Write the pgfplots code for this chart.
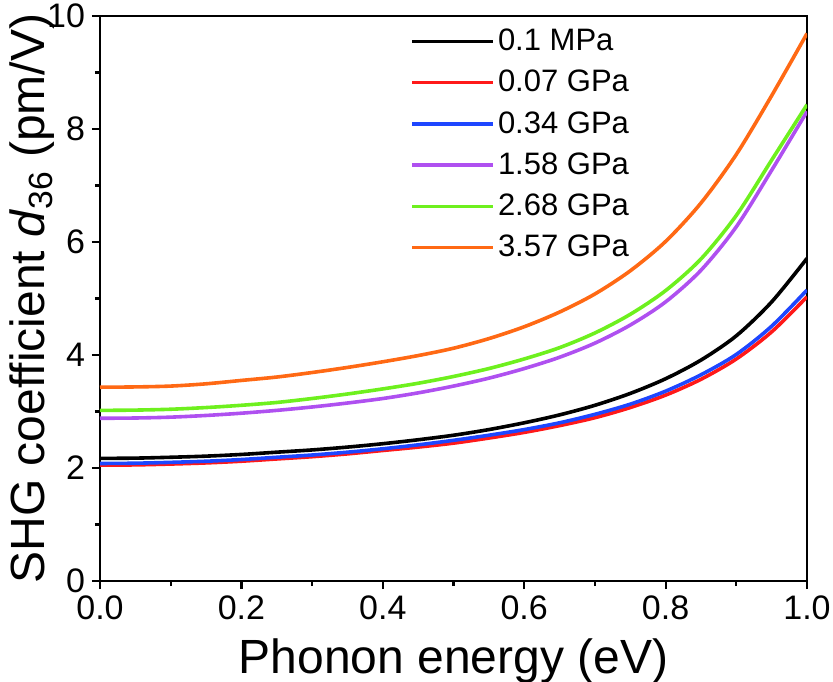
\documentclass[border=0pt]{standalone}
\usepackage{pgfplots}
\pgfplotsset{compat=1.18}
\usepackage{fontspec}
\setmainfont{Liberation Sans}

\definecolor{cred}{RGB}{255,25,25}
\definecolor{cblue}{RGB}{30,70,255}
\definecolor{cpurple}{RGB}{175,80,240}
\definecolor{cgreen}{RGB}{110,240,30}
\definecolor{corange}{RGB}{255,105,20}

\begin{document}
\begin{tikzpicture}
\begin{axis}[
    width=353.5pt, height=282.5pt,
    scale only axis,
    xmin=0, xmax=1,
    ymin=0, ymax=10,
    xtick={0,0.2,0.4,0.6,0.8,1.0},
    ytick={0,2,4,6,8,10},
    minor x tick num=1,
    minor y tick num=1,
    tick align=outside,
    tick pos=left,
    major tick length=4pt,
    minor tick length=2.5pt,
    axis line style={line width=1.3pt},
    every tick/.style={black, line width=1.1pt},
    /pgf/number format/assume math mode=true,
    xticklabel style={/pgf/number format/.cd, fixed, fixed zerofill, precision=1},
    ticklabel style={font=\fontsize{17}{20}\selectfont},
    xlabel={Phonon energy (eV)},
    ylabel={SHG coefficient \textit{d}\textsubscript{36} (pm/V)},
    label style={font=\fontsize{24}{28}\selectfont},
    xlabel style={at={(axis description cs:0.5,-0.163)}, anchor=base},
    ylabel style={at={(axis description cs:-0.078,0.5)}, anchor=base, rotate=0},
    legend style={at={(0.43,0.99)}, anchor=north west, draw=none, fill=none,
        font=\fontsize{15.5}{18}\selectfont, row sep=5.3pt,
        nodes={inner sep=1.5pt}},
    legend cell align=left,
    legend image code/.code={\draw[#1] (0pt,0pt) -- (38.5pt,0pt); \path (0pt,0pt) -- (40.5pt,0pt);},
    every axis plot/.append style={line width=1.8pt, smooth},
]
\coordinate (bl) at (rel axis cs:0,0);
\coordinate (tr) at (rel axis cs:1,1);

% 0.1 MPa
\addplot[black] coordinates {
(0,2.17)(0.05,2.175)(0.1,2.19)(0.15,2.21)(0.2,2.24)(0.25,2.28)(0.3,2.32)(0.35,2.37)(0.4,2.43)(0.45,2.50)
(0.5,2.58)(0.55,2.68)(0.6,2.80)(0.65,2.94)(0.7,3.11)(0.75,3.32)(0.8,3.58)(0.85,3.91)(0.9,4.34)(0.95,4.94)(1.0,5.71)};
\addlegendentry{0.1 MPa}

% 0.07 GPa
\addplot[cred] coordinates {
(0,2.05)(0.05,2.055)(0.1,2.07)(0.15,2.09)(0.2,2.12)(0.25,2.16)(0.3,2.20)(0.35,2.25)(0.4,2.31)(0.45,2.37)
(0.5,2.44)(0.55,2.53)(0.6,2.63)(0.65,2.75)(0.7,2.89)(0.75,3.07)(0.8,3.29)(0.85,3.57)(0.9,3.93)(0.95,4.41)(1.0,5.03)};
\addlegendentry{0.07 GPa}

% 0.34 GPa
\addplot[cblue] coordinates {
(0,2.08)(0.05,2.085)(0.1,2.10)(0.15,2.12)(0.2,2.15)(0.25,2.19)(0.3,2.23)(0.35,2.28)(0.4,2.34)(0.45,2.41)
(0.5,2.49)(0.55,2.58)(0.6,2.68)(0.65,2.80)(0.7,2.95)(0.75,3.13)(0.8,3.36)(0.85,3.65)(0.9,4.01)(0.95,4.51)(1.0,5.15)};
\addlegendentry{0.34 GPa}

% 1.58 GPa
\addplot[cpurple] coordinates {
(0,2.88)(0.05,2.885)(0.1,2.90)(0.15,2.93)(0.2,2.97)(0.25,3.02)(0.3,3.08)(0.35,3.15)(0.4,3.23)(0.45,3.33)
(0.5,3.45)(0.55,3.59)(0.6,3.76)(0.65,3.96)(0.7,4.21)(0.75,4.53)(0.8,4.94)(0.85,5.50)(0.9,6.27)(0.95,7.27)(1.0,8.31)};
\addlegendentry{1.58 GPa}

% 2.68 GPa
\addplot[cgreen] coordinates {
(0,3.02)(0.05,3.025)(0.1,3.04)(0.15,3.07)(0.2,3.11)(0.25,3.16)(0.3,3.23)(0.35,3.31)(0.4,3.40)(0.45,3.50)
(0.5,3.62)(0.55,3.76)(0.6,3.93)(0.65,4.13)(0.7,4.39)(0.75,4.72)(0.8,5.14)(0.85,5.70)(0.9,6.47)(0.95,7.45)(1.0,8.43)};
\addlegendentry{2.68 GPa}

% 3.57 GPa
\addplot[corange] coordinates {
(0,3.43)(0.05,3.435)(0.1,3.45)(0.15,3.49)(0.2,3.55)(0.25,3.61)(0.3,3.69)(0.35,3.78)(0.4,3.88)(0.45,3.99)
(0.5,4.12)(0.55,4.29)(0.6,4.50)(0.65,4.76)(0.7,5.08)(0.75,5.49)(0.8,6.01)(0.85,6.69)(0.9,7.55)(0.95,8.59)(1.0,9.69)};
\addlegendentry{3.57 GPa}
\end{axis}
\pgfresetboundingbox
\path[use as bounding box] ([xshift=-50pt,yshift=-50pt]bl) rectangle ([xshift=13pt,yshift=8pt]tr);
\end{tikzpicture}
\end{document}
